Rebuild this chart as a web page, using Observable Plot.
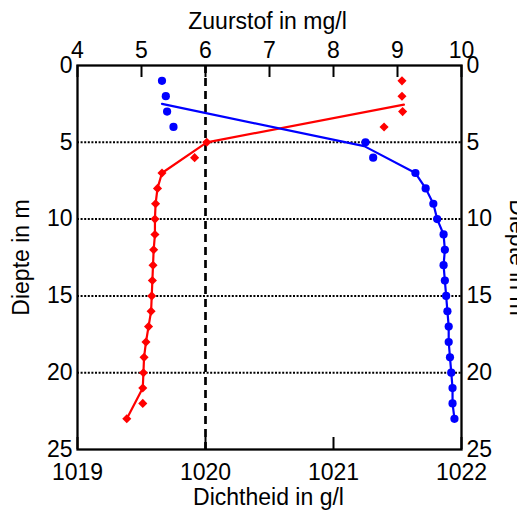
<!DOCTYPE html>
<html><head><meta charset="utf-8">
<script src="https://cdn.jsdelivr.net/npm/d3@7"></script>
<script src="https://cdn.jsdelivr.net/npm/@observablehq/plot@0.6"></script>
<style>
html,body{margin:0;padding:0;background:#fff;}
#chart{position:relative;width:517px;height:517px;overflow:hidden;}
#chart svg{position:absolute;left:0;top:0;}
</style></head><body><div id="chart"></div>
<script>
// measured depths (m)
const depths = [1,2,3,4,5,6,7,8,9,10,11,12,13,14,15,16,17,18,19,20,21,22,23];
// Zuurstof (mg/l), red diamonds, top axis
const oxygen = [9.07,9.07,9.08,8.79,6.02,5.83,5.32,5.25,5.22,5.21,5.21,5.19,5.18,5.17,5.16,5.15,5.11,5.07,5.04,5.03,5.02,5.02,4.77];
// Dichtheid (g/l), blue circles, bottom axis
const density = [1019.66,1019.69,1019.70,1019.75,1021.25,1021.31,1021.64,1021.72,1021.78,1021.81,1021.86,1021.87,1021.86,1021.87,1021.88,1021.89,1021.90,1021.90,1021.91,1021.92,1021.93,1021.93,1021.945];
// model lines
const oxygenLineDepth = [2.55,5,7,8,9,10,11,12,13,14,15,16,17,18,19,20,21,23];
const oxygenLineValue = [9.10,6.02,5.32,5.25,5.22,5.21,5.21,5.19,5.18,5.17,5.16,5.15,5.11,5.07,5.04,5.03,5.02,4.77];
const densityLineDepth = [2.5,5.25,7,8,9,10,11,12,13,14,15,16,17,18,19,20,21,22,23];
const densityLineValue = [1019.66,1021.24,1021.64,1021.72,1021.78,1021.81,1021.86,1021.87,1021.86,1021.87,1021.88,1021.89,1021.90,1021.90,1021.91,1021.92,1021.93,1021.93,1021.945];
// ticks
const oxygenTicks = [4,5,6,7,8,9,10];
const densityTicks = [1019,1020,1021,1022];
const depthTicks = [0,5,10,15,20,25];
const gridDepths = [5,10,15,20];
const referenceOxygen = [6];

const oxRows = depths.map((d,i)=>({depth:d, value:oxygen[i]}));
const dnRows = depths.map((d,i)=>({depth:d, value:density[i]}));
const oxLine = oxygenLineDepth.map((d,i)=>({depth:d, value:oxygenLineValue[i]}));
const dnLine = densityLineDepth.map((d,i)=>({depth:d, value:densityLineValue[i]}));

const font = "'Liberation Sans', Arial, Helvetica, sans-serif";
const FS = 23;
const base = {width:517, height:517, marginLeft:77, marginRight:56, marginTop:65, marginBottom:68,
  y:{domain:[0,25], reverse:true, axis:null},
  style:{fontFamily:font, background:"transparent", color:"#000"}};

const oxPlot = Plot.plot({...base,
  x:{domain:[4,10], axis:null},
  marks:[
    Plot.ruleY(gridDepths, {stroke:"#000", strokeWidth:2, strokeDasharray:"2,1.6"}),
    Plot.ruleX(referenceOxygen, {stroke:"#000", strokeWidth:2.7, strokeDasharray:"8,5"}),
    Plot.ruleX(oxygenTicks, {stroke:"#000", strokeWidth:2, insetBottom:372}),
    Plot.axisX(oxygenTicks, {anchor:"top", tickSize:0, tickPadding:8, fontSize:FS, label:null, tickFormat:"d"}),
    Plot.axisY(depthTicks, {anchor:"left", tickSize:0, tickPadding:5, fontSize:FS, label:null, tickFormat:"d"}),
    Plot.axisY(depthTicks, {anchor:"right", tickSize:0, tickPadding:5, fontSize:FS, label:null, tickFormat:"d"}),
    Plot.line(oxLine, {x:"value", y:"depth", stroke:"#ff0000", strokeWidth:2.2}),
    Plot.dot(oxRows, {x:"value", y:"depth", symbol:"diamond2", fill:"#ff0000", r:4.1}),
    Plot.frame({stroke:"#000", strokeWidth:2.3}),
    Plot.text(["Zuurstof in mg/l"], {frameAnchor:"top", dy:-37, dx:-2, textAnchor:"middle", lineAnchor:"bottom", fontSize:FS}),
    Plot.text(["Diepte in m"], {frameAnchor:"left", rotate:-90, dx:-49, textAnchor:"middle", lineAnchor:"bottom", fontSize:FS}),
    Plot.text(["Diepte in m"], {frameAnchor:"right", rotate:90, dx:48, textAnchor:"middle", lineAnchor:"bottom", fontSize:FS})
  ]});

const dnPlot = Plot.plot({...base,
  x:{domain:[1019,1022], axis:null},
  marks:[
    Plot.ruleX(densityTicks, {stroke:"#000", strokeWidth:2, insetTop:372}),
    Plot.axisX(densityTicks, {anchor:"bottom", tickSize:0, tickPadding:14, fontSize:FS, label:null, tickFormat:"d"}),
    Plot.line(dnLine, {x:"value", y:"depth", stroke:"#0000ff", strokeWidth:2.2}),
    Plot.dot(dnRows, {x:"value", y:"depth", fill:"#0000ff", r:4.1}),
    Plot.text(["Dichtheid in g/l"], {frameAnchor:"bottom", dy:55, dx:-1, textAnchor:"middle", lineAnchor:"bottom", fontSize:FS})
  ]});

const host = document.getElementById("chart");
host.appendChild(oxPlot);
host.appendChild(dnPlot);
</script></body></html>
